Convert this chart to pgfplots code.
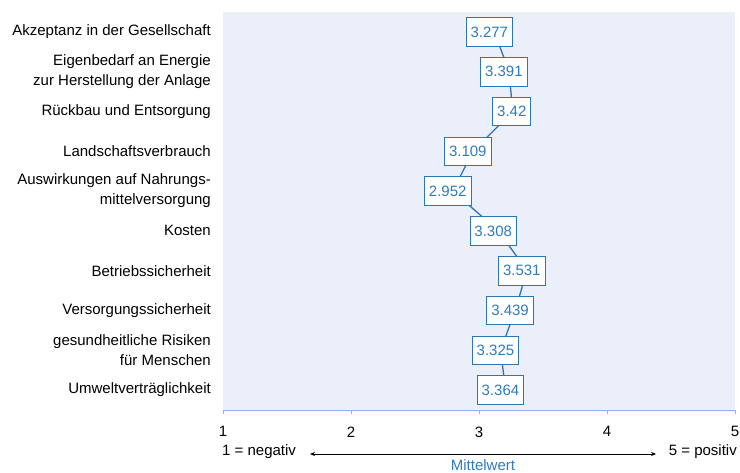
\documentclass[border=0pt]{standalone}
\usepackage{pgfplots}
\pgfplotsset{compat=1.18}
\usepackage{fontspec}
\setmainfont{Liberation Sans}
\usetikzlibrary{arrows.meta}
\definecolor{bgblue}{RGB}{234,239,250}
\definecolor{axblue}{RGB}{142,180,227}
\definecolor{boxblue}{RGB}{46,117,182}
\definecolor{txtblue}{RGB}{46,123,192}
\pgfplotstableread{
val y label
3.277 1 3.277
3.391 2 3.391
3.42 3 3.42
3.109 4 3.109
2.952 5 2.952
3.308 6 3.308
3.531 7 3.531
3.439 8 3.439
3.325 9 3.325
3.364 10 3.364
}\datatable
\begin{document}
\begin{tikzpicture}[x=1pt,y=1pt]
\useasboundingbox (-223,-62) rectangle (517,410);
\begin{axis}[
  at={(0,0)}, anchor=south west,
  scale only axis, width=512pt, height=398pt,
  xmin=1, xmax=5, ymin=0.5, ymax=10.5, y dir=reverse,
  axis background/.style={fill=bgblue},
  axis x line=bottom, axis y line=left,
  axis line style={-},
  x axis line style={draw=axblue, line width=0.8pt},
  y axis line style={draw=none},
  xtick={1,2,3,4,5},
  xtick style={draw=axblue, line width=0.8pt},
  ytick style={draw=none},
  tick align=outside, major tick length=4pt,
  ytick={1,...,10},
  yticklabels={{Akzeptanz in der Gesellschaft},
    {Eigenbedarf an Energie\ \\zur Herstellung der Anlage},
    {R\"uckbau und Entsorgung},
    {Landschaftsverbrauch},
    {Auswirkungen auf Nahrungs-\\mittelversorgung\ },
    {Kosten},
    {Betriebssicherheit},
    {Versorgungssicherheit},
    {gesundheitliche Risiken\ \\f\"ur Menschen},
    {Umweltvertr\"aglichkeit}},
  yticklabel style={align=right, font=\fontsize{15}{20}\selectfont, inner sep=0pt, xshift=-8pt},
  xticklabel style={font=\fontsize{15}{18}\selectfont, yshift=-9pt},
  /pgf/number format/assume math mode=true,
  clip=false,
]
\addplot[color=boxblue, line width=1.3pt, mark=none, xshift=-20pt]
  table[x=val, y=y] {\datatable};
\addplot[draw=none, mark=none,
  nodes near coords, point meta=explicit symbolic,
  every node near coord/.style={anchor=east, draw=boxblue, fill=white, text=txtblue,
    line width=0.8pt, inner xsep=4.5pt, inner ysep=0pt, minimum height=28.5pt,
    font=\fontsize{15}{18}\selectfont, xshift=-1.5pt}]
  table[x=val, y=y, meta=label] {\datatable};
\end{axis}
\draw[black, line width=0.7pt, {Stealth[length=5pt,width=4pt]}-{Stealth[length=5pt,width=4pt]}] (87,-44) -- (433,-44);
\node[anchor=west, inner sep=0pt, font=\fontsize{15}{18}\selectfont] at (-1,-42) {1 = negativ};
\node[anchor=east, inner sep=0pt, font=\fontsize{15}{18}\selectfont] at (514,-42) {5 = positiv};
\node[inner sep=0pt, text=txtblue, font=\fontsize{15}{18}\selectfont] at (260,-55) {Mittelwert};
\end{tikzpicture}
\end{document}
